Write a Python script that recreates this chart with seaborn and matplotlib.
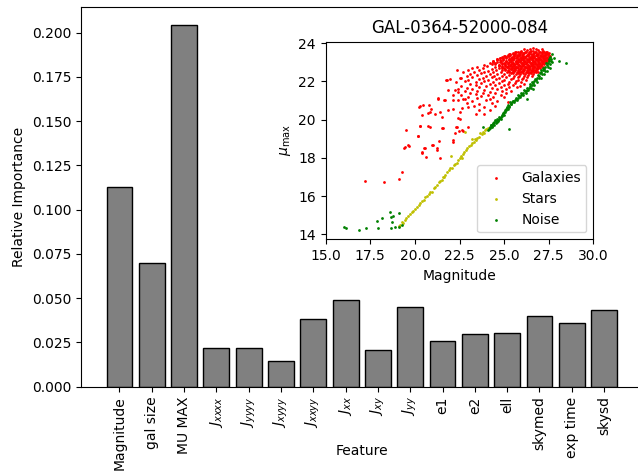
import matplotlib
matplotlib.use("Agg")
import matplotlib.pyplot as plt
import seaborn as sns
import pandas as pd

# ---------------- bar chart data ----------------
features = ["Magnitude", "gal size", "MU MAX", r"$J_{xxxx}$", r"$J_{yyyy}$",
            r"$J_{xyyy}$", r"$J_{xxyy}$", r"$J_{xx}$", r"$J_{xy}$", r"$J_{yy}$",
            "e1", "e2", "ell", "skymed", "exp time", "skysd"]
importance = [0.1126, 0.0698, 0.2046, 0.0220, 0.0221, 0.0146, 0.0385, 0.0490,
              0.0207, 0.0450, 0.0261, 0.0298, 0.0306, 0.0398, 0.0361, 0.0433]

# ---------------- inset scatter data (magnitude, mu_max) ----------------
galaxies = [
    (17.19, 16.79), (18.25, 16.76), (19.13, 16.91), (19.28, 17.25), (19.39, 18.52),
    (19.65, 18.64), (19.49, 19.46), (20.16, 19.15), (20.31, 19.67), (20.40, 18.24),
    (20.53, 18.54), (20.61, 18.07), (20.21, 20.68), (20.48, 20.75), (20.40, 20.25),
    (20.72, 20.37), (20.85, 19.64), (21.00, 18.66), (21.22, 18.54), (21.41, 18.01),
    (21.54, 19.55), (21.41, 20.42), (21.28, 21.07), (21.64, 21.03), (21.79, 22.08),
    (21.88, 21.56), (22.16, 21.03), (22.16, 18.94), (22.31, 19.64), (22.44, 20.07),
    (22.63, 19.46), (22.53, 20.42), (22.38, 22.60), (22.44, 21.03), (22.81, 21.07),
    (23.00, 20.68), (21.74, 22.06), (21.96, 22.11), (22.58, 22.17), (22.25, 21.55),
    (22.43, 21.43), (22.12, 21.29), (21.31, 21.12), (21.69, 21.03), (20.29, 20.73),
    (20.79, 20.77), (20.88, 20.56), (20.85, 20.39), (21.13, 20.28), (21.50, 20.16),
    (21.87, 20.51), (22.15, 20.56), (22.53, 20.04), (22.62, 20.60), (20.29, 19.69),
    (20.72, 19.67), (20.19, 19.16), (21.59, 19.58), (22.34, 19.63), (22.49, 19.42),
    (22.71, 19.41), (22.96, 19.63), (22.25, 19.32), (19.45, 18.59), (19.63, 18.68),
    (20.57, 18.53), (20.94, 18.68), (21.37, 18.88), (22.15, 18.85), (20.41, 18.29),
    (21.26, 18.41),
    (25.95, 23.60), (26.30, 23.63), (26.62, 23.58), (26.90, 23.64), (27.18, 23.60), (27.40, 23.56),
    (25.50, 23.48), (25.78, 23.52), (26.08, 23.47), (26.40, 23.53), (26.70, 23.49), (27.02, 23.52),
    (27.30, 23.47), (27.50, 23.50),
    (25.20, 23.38), (25.48, 23.42), (25.74, 23.37), (26.00, 23.41), (26.26, 23.39), (26.52, 23.43),
    (26.77, 23.38), (27.02, 23.41), (27.26, 23.37), (27.46, 23.42),
    (24.90, 23.28), (25.20, 23.31), (25.44, 23.27), (25.70, 23.32), (25.96, 23.28), (26.20, 23.31),
    (26.46, 23.27), (26.70, 23.32), (26.94, 23.28), (27.18, 23.31), (27.40, 23.29), (27.60, 23.33),
    (24.60, 23.18), (24.94, 23.22), (25.30, 23.17), (25.56, 23.21), (25.82, 23.19), (26.06, 23.22),
    (26.32, 23.18), (26.56, 23.21), (26.80, 23.17), (27.06, 23.20), (27.30, 23.22), (27.50, 23.18),
    (24.40, 23.08), (24.78, 23.12), (25.12, 23.07), (25.40, 23.11), (25.66, 23.09), (25.92, 23.12),
    (26.16, 23.08), (26.42, 23.11), (26.66, 23.07), (26.90, 23.12), (27.14, 23.09), (27.36, 23.11),
    (24.20, 22.98), (24.58, 23.02), (24.98, 22.97), (25.26, 23.01), (25.52, 22.99), (25.76, 23.02),
    (26.02, 22.98), (26.26, 23.01), (26.52, 22.97), (26.76, 23.02), (27.00, 22.99), (27.24, 23.01),
    (23.90, 22.88), (24.32, 22.92), (24.70, 22.87), (25.06, 22.91), (25.36, 22.89), (25.62, 22.92),
    (25.86, 22.88), (26.12, 22.91), (26.36, 22.87), (26.62, 22.92), (26.86, 22.89), (27.10, 22.91),
    (23.50, 22.78), (24.02, 22.82), (24.50, 22.77), (24.86, 22.81), (25.20, 22.79), (25.46, 22.82),
    (25.72, 22.78), (25.96, 22.81), (26.20, 22.77), (26.46, 22.82), (26.70, 22.79), (26.96, 22.81),
    (27.20, 22.78),
    (23.20, 22.68), (23.80, 22.72), (24.30, 22.67), (24.70, 22.71), (25.02, 22.69), (25.30, 22.72),
    (25.56, 22.68), (25.80, 22.71), (26.06, 22.67), (26.30, 22.72), (26.56, 22.69), (26.80, 22.71),
    (27.02, 22.68),
    (23.00, 22.58), (23.60, 22.62), (24.10, 22.57), (24.56, 22.61), (24.90, 22.59), (25.20, 22.62),
    (25.50, 22.58), (25.76, 22.61), (26.00, 22.57), (26.26, 22.62), (26.50, 22.59), (26.76, 22.61),
    (22.70, 22.48), (23.30, 22.52), (23.90, 22.47), (24.40, 22.51), (24.80, 22.49), (25.16, 22.52),
    (25.46, 22.48), (25.70, 22.51), (25.96, 22.47), (26.20, 22.52), (26.46, 22.49), (26.70, 22.51),
    (26.90, 22.47),
    (23.10, 22.38), (23.70, 22.42), (24.20, 22.37), (24.60, 22.41), (25.00, 22.39), (25.36, 22.42),
    (25.66, 22.38), (25.90, 22.41), (26.16, 22.37), (26.40, 22.42), (26.62, 22.39),
    (22.90, 22.28), (23.50, 22.32), (24.00, 22.27), (24.46, 22.31), (24.86, 22.29), (25.26, 22.32),
    (25.56, 22.28), (25.86, 22.31), (26.10, 22.27), (26.36, 22.32), (26.56, 22.29),
    (22.50, 22.18), (23.20, 22.22), (23.80, 22.17), (24.30, 22.21), (24.70, 22.19), (25.10, 22.22),
    (25.50, 22.18), (25.80, 22.21), (26.06, 22.17), (26.30, 22.22),
    (23.00, 22.08), (23.60, 22.12), (24.10, 22.07), (24.56, 22.11), (25.00, 22.09), (25.40, 22.12),
    (25.76, 22.08), (26.00, 22.11), (26.24, 22.07),
    (22.30, 21.98), (22.80, 22.02), (23.40, 21.97), (23.90, 22.01), (24.40, 21.99), (24.86, 22.02),
    (25.30, 21.98), (25.66, 22.01), (25.96, 21.97),
    (23.10, 21.88), (23.70, 21.92), (24.20, 21.87), (24.70, 21.91), (25.20, 21.89), (25.60, 21.92),
    (26.10, 21.88),
    (22.60, 21.78), (23.40, 21.82), (24.00, 21.77), (24.50, 21.81), (25.00, 21.79), (25.50, 21.82),
    (25.90, 21.78),
    (22.90, 21.68), (23.60, 21.72), (24.30, 21.67), (24.80, 21.71), (25.30, 21.69), (25.70, 21.72),
    (22.40, 21.58), (23.20, 21.62), (23.90, 21.57), (24.60, 21.61), (25.10, 21.59),
    (22.80, 21.48), (23.50, 21.52), (24.20, 21.47), (24.90, 21.51), (25.40, 21.49),
    (23.10, 21.38), (23.80, 21.42), (24.50, 21.37), (25.10, 21.41),
    (22.60, 21.28), (23.40, 21.32), (24.10, 21.27), (24.80, 21.31),
    (23.00, 21.18), (23.70, 21.22), (24.40, 21.17), (25.00, 21.21),
    (22.70, 21.08), (23.50, 21.12), (24.20, 21.07),
    (23.20, 20.98), (24.00, 21.02), (24.60, 20.97), (25.20, 20.94),
    (22.90, 20.88), (23.60, 20.82), (24.30, 20.86),
    (23.30, 20.72), (23.90, 20.67), (24.50, 20.70),
    (23.60, 20.52), (24.20, 20.48), (23.40, 20.28), (23.90, 20.32),
    (25.62, 23.55), (25.92, 23.56), (26.20, 23.55), (26.50, 23.57), (26.80, 23.55), (27.10, 23.56),
    (27.35, 23.55),
    (25.35, 23.45), (25.62, 23.46), (25.88, 23.45), (26.14, 23.47), (26.40, 23.45), (26.64, 23.46),
    (26.90, 23.45), (27.14, 23.47), (27.38, 23.45),
    (25.06, 23.35), (25.32, 23.36), (25.58, 23.35), (25.84, 23.37), (26.08, 23.35), (26.34, 23.36),
    (26.58, 23.35), (26.82, 23.37), (27.06, 23.35), (27.30, 23.36), (27.50, 23.35),
    (24.78, 23.25), (25.12, 23.26), (25.44, 23.25), (25.70, 23.27), (25.94, 23.25), (26.18, 23.26),
    (26.44, 23.25), (26.68, 23.27), (26.92, 23.25), (27.18, 23.26), (27.42, 23.25),
    (24.60, 23.15), (24.96, 23.16), (25.26, 23.15), (25.52, 23.17), (25.78, 23.15), (26.04, 23.16),
    (26.28, 23.15), (26.54, 23.17), (26.78, 23.15), (27.02, 23.16), (27.26, 23.15), (27.46, 23.16),
    (24.40, 23.05), (24.80, 23.06), (25.12, 23.05), (25.38, 23.07), (25.64, 23.05), (25.88, 23.06),
    (26.14, 23.05), (26.40, 23.07), (26.64, 23.05), (26.88, 23.06), (27.12, 23.05), (27.34, 23.06),
    (24.50, 22.95), (24.88, 22.96), (25.20, 22.95), (25.48, 22.97), (25.74, 22.95), (25.98, 22.96),
    (26.24, 22.95), (26.48, 22.97), (26.74, 22.95), (26.98, 22.96), (27.20, 22.95),
    (24.70, 22.85), (25.04, 22.86), (25.32, 22.85), (25.58, 22.87), (25.84, 22.85), (26.08, 22.86),
    (26.34, 22.85), (26.58, 22.87), (26.82, 22.85), (27.08, 22.86),
    (24.86, 22.75), (25.16, 22.76), (25.42, 22.75), (25.68, 22.77), (25.92, 22.75), (26.18, 22.76),
    (26.42, 22.75), (26.68, 22.77), (26.92, 22.75),
    (25.06, 22.65), (25.36, 22.66), (25.62, 22.65), (25.88, 22.67), (26.12, 22.65), (26.38, 22.66),
    (26.62, 22.65), (26.86, 22.67),
    (25.30, 22.55), (25.58, 22.56), (25.84, 22.55), (26.08, 22.57), (26.32, 22.55), (26.58, 22.56),
    (26.80, 22.55),
    (25.50, 22.45), (25.78, 22.46), (26.04, 22.45), (26.28, 22.47), (26.52, 22.45),
    (25.64, 23.52), (25.90, 23.53), (26.16, 23.52), (26.44, 23.53), (26.72, 23.52), (26.98, 23.53),
    (27.24, 23.52),
    (25.30, 23.42), (25.56, 23.43), (25.82, 23.42), (26.08, 23.43), (26.34, 23.42), (26.60, 23.43),
    (26.86, 23.42), (27.12, 23.43), (27.36, 23.42),
    (25.00, 23.32), (25.30, 23.33), (25.56, 23.32), (25.82, 23.33), (26.08, 23.32), (26.32, 23.33),
    (26.58, 23.32), (26.82, 23.33), (27.06, 23.32), (27.30, 23.33), (27.50, 23.32),
    (24.76, 23.22), (25.10, 23.23), (25.40, 23.22), (25.68, 23.23), (25.94, 23.22), (26.18, 23.23),
    (26.44, 23.22), (26.68, 23.23), (26.94, 23.22), (27.18, 23.23), (27.40, 23.22),
    (24.60, 23.12), (24.94, 23.13), (25.26, 23.12), (25.52, 23.13), (25.78, 23.12), (26.04, 23.13),
    (26.28, 23.12), (26.54, 23.13), (26.78, 23.12), (27.02, 23.13), (27.26, 23.12), (27.48, 23.13),
    (24.40, 23.02), (24.78, 23.03), (25.12, 23.02), (25.38, 23.03), (25.64, 23.02), (25.88, 23.03),
    (26.14, 23.02), (26.38, 23.03), (26.64, 23.02), (26.88, 23.03), (27.12, 23.02), (27.36, 23.03),
    (24.50, 22.92), (24.88, 22.93), (25.20, 22.92), (25.48, 22.93), (25.74, 22.92), (25.98, 22.93),
    (26.24, 22.92), (26.48, 22.93), (26.74, 22.92), (26.98, 22.93), (27.22, 22.92),
    (24.70, 22.82), (25.04, 22.83), (25.32, 22.82), (25.58, 22.83), (25.84, 22.82), (26.08, 22.83),
    (26.32, 22.82), (26.58, 22.83), (26.82, 22.82), (27.06, 22.83),
    (24.86, 22.72), (25.16, 22.73), (25.42, 22.72), (25.68, 22.73), (25.92, 22.72), (26.18, 22.73),
    (26.42, 22.72), (26.68, 22.73), (26.90, 22.72),
    (25.06, 22.62), (25.36, 22.63), (25.62, 22.62), (25.88, 22.63), (26.12, 22.62), (26.38, 22.63),
    (26.62, 22.62), (26.86, 22.63),
    (25.30, 22.52), (25.58, 22.53), (25.84, 22.52), (26.08, 22.53), (26.32, 22.52), (26.58, 22.53),
    (26.80, 22.52),
    (26.10, 23.70), (26.45, 23.72), (26.80, 23.68), (27.10, 23.70), (26.60, 23.75),
]

stars = [
    (19.10, 14.45), (19.16, 14.49), (19.30, 14.62), (19.44, 14.75), (19.50, 14.86),
    (19.62, 14.98), (19.70, 15.05), (19.82, 15.18), (19.90, 15.24), (20.00, 15.35),
    (20.10, 15.45), (20.22, 15.55), (20.30, 15.62), (20.38, 15.74), (20.50, 15.82),
    (20.57, 15.97), (20.66, 16.02), (20.80, 16.12), (20.94, 16.23), (21.05, 16.40),
    (21.12, 16.50), (21.22, 16.58), (21.34, 16.72), (21.42, 16.80), (21.50, 16.84),
    (21.62, 17.02), (21.70, 17.12), (21.78, 17.25), (21.90, 17.36), (21.98, 17.45),
    (22.06, 17.46), (22.18, 17.62), (22.26, 17.70), (22.34, 17.72), (22.42, 17.88),
    (22.50, 17.98), (22.62, 17.98), (22.70, 18.22), (22.78, 18.30), (22.86, 18.42),
    (22.94, 18.50), (23.04, 18.60), (23.12, 18.66), (23.20, 18.76), (23.30, 18.84),
    (23.40, 18.94), (23.48, 19.02), (23.58, 19.10), (23.65, 19.29), (23.74, 19.24),
    (23.82, 19.36), (23.93, 19.45), (24.00, 19.50), (24.08, 19.56),
    (22.02, 18.10), (22.81, 19.37), (23.18, 19.00), (19.36, 14.58), (20.84, 16.20),
    (21.56, 17.00), (22.56, 18.12), (23.36, 18.98), (23.88, 19.32),
]

noise = [
    (16.03, 14.40), (16.12, 14.31), (16.87, 14.23), (17.26, 14.35), (17.86, 14.71),
    (17.91, 14.35), (18.14, 14.87), (18.60, 15.15), (18.66, 14.92), (18.79, 14.96),
    (18.70, 14.66), (18.88, 14.40), (18.66, 14.35), (19.11, 15.10), (19.10, 14.40),
    (19.25, 14.50),
    (23.84, 19.64), (24.10, 19.45), (24.16, 19.52), (24.21, 19.63), (24.28, 19.70),
    (24.34, 19.66), (24.40, 19.80), (24.46, 19.86), (24.52, 19.92), (24.58, 19.88),
    (24.64, 20.00), (24.70, 20.06), (24.77, 20.07), (24.82, 20.16), (24.88, 20.26),
    (24.95, 20.32), (25.00, 20.40), (25.05, 20.50), (25.12, 20.56), (25.18, 20.62),
    (25.24, 20.77), (25.30, 20.74), (25.36, 20.84), (25.44, 20.90), (25.52, 20.96),
    (25.60, 21.02), (25.68, 21.10), (25.76, 21.16), (25.84, 21.24), (25.92, 21.30),
    (26.00, 21.36), (26.08, 21.42), (26.16, 21.48), (26.24, 21.52), (26.30, 21.55),
    (26.38, 21.66), (26.46, 21.74), (26.54, 21.82), (26.62, 21.92), (26.70, 22.00),
    (26.78, 22.10), (26.86, 22.20), (26.94, 22.30), (27.01, 22.43), (27.08, 22.50),
    (27.16, 22.60), (27.24, 22.66), (27.32, 22.76), (27.39, 22.86), (27.45, 22.96),
    (27.52, 23.08), (27.57, 23.30), (27.62, 23.18), (27.66, 23.42), (27.55, 22.70),
    (27.40, 22.55), (27.22, 22.40), (27.70, 23.00), (27.80, 23.25), (28.07, 23.07),
    (28.46, 22.95), (26.27, 21.07), (25.26, 19.53), (26.60, 21.60), (27.05, 22.20),
    (24.20, 19.55), (24.25, 19.72), (24.32, 19.60), (24.38, 19.78), (24.44, 19.72),
    (24.50, 19.98), (24.55, 19.82), (24.60, 20.05), (24.66, 19.94), (24.72, 20.14),
    (24.80, 20.04), (24.86, 20.20), (24.92, 20.36), (24.98, 20.24), (25.04, 20.42),
    (25.10, 20.48), (25.14, 20.66), (25.20, 20.55), (25.28, 20.68), (25.34, 20.92),
    (25.40, 20.80), (25.48, 21.00), (25.56, 20.90), (25.64, 21.12), (25.72, 21.04),
    (25.80, 21.30), (25.88, 21.18), (25.96, 21.42), (26.04, 21.30), (26.12, 21.55),
    (26.20, 21.42), (26.28, 21.66), (26.36, 21.56), (26.44, 21.86), (26.50, 21.68),
    (26.58, 21.96), (26.66, 21.84), (26.74, 22.12), (26.82, 21.98), (26.90, 22.36),
    (26.98, 22.20), (27.06, 22.58), (27.12, 22.38), (27.20, 22.72), (27.28, 22.56),
    (27.36, 22.94), (27.44, 22.74), (27.50, 23.20), (27.58, 22.92), (27.64, 23.06),
]

gal_mag = [p[0] for p in galaxies]
gal_mu = [p[1] for p in galaxies]
star_mag = [p[0] for p in stars]
star_mu = [p[1] for p in stars]
noise_mag = [p[0] for p in noise]
noise_mu = [p[1] for p in noise]

plt.rcParams["font.family"] = ["DejaVu Sans"]
plt.rcParams["mathtext.fontset"] = "dejavusans"

fig = plt.figure(figsize=(6.38, 4.76), dpi=100)

# main axes (right edge slightly beyond the figure, as in the reference)
ax = fig.add_axes([81 / 638, 89.3 / 476, 561.5 / 638, 380 / 476])
df = pd.DataFrame({"feature": features, "importance": importance})
sns.barplot(data=df, x="feature", y="importance", color="grey", saturation=1,
            edgecolor="black", linewidth=1, width=0.8, ax=ax)
ax.set_xlim(-1.19, 16.19)
ax.set_ylim(0, 0.2147)
ax.set_xlabel("Feature", fontsize=10)
ax.xaxis.set_label_coords(0.5, -0.152)
ax.set_ylabel("Relative Importance", fontsize=10)
ax.tick_params(axis="x", rotation=90, labelsize=10)
ax.tick_params(axis="y", labelsize=10)

# inset axes
ins = fig.add_axes([325.7 / 638, 236.7 / 476, 267.6 / 638, 197.6 / 476])
sns.scatterplot(x=gal_mag, y=gal_mu, color="r", s=4, linewidth=0,
                label="Galaxies", ax=ins)
sns.scatterplot(x=star_mag, y=star_mu, color="y", s=4, linewidth=0,
                label="Stars", ax=ins)
sns.scatterplot(x=noise_mag, y=noise_mu, color="g", s=4, linewidth=0,
                label="Noise", ax=ins)
ins.set_xlim(15, 30)
ins.set_ylim(13.74, 24.08)
ins.set_xticks([15.0, 17.5, 20.0, 22.5, 25.0, 27.5, 30.0])
ins.set_xticklabels(["15.0", "17.5", "20.0", "22.5", "25.0", "27.5", "30.0"])
ins.set_yticks([14, 16, 18, 20, 22, 24])
ins.set_xlabel("Magnitude", fontsize=10)
ins.set_ylabel(r"$\mu_{\rm max}$", fontsize=10)
ins.set_title("GAL-0364-52000-084", fontsize=12)
ins.legend(loc="lower right", fontsize=10)

fig.savefig("out.png", dpi=100)
